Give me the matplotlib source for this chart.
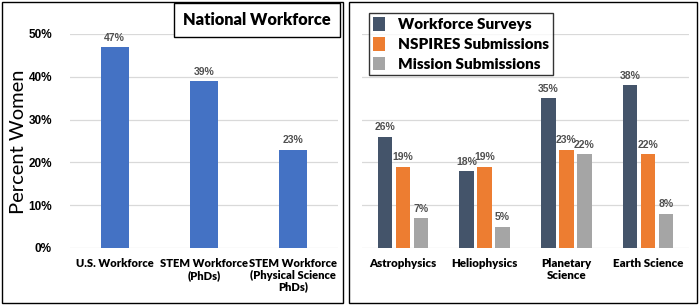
import numpy as np
import matplotlib.pyplot as plt
from matplotlib.patches import Rectangle

plt.rcParams['font.family'] = ['Lato', 'DejaVu Sans']
narrow = ['Liberation Sans Narrow', 'Liberation Sans', 'DejaVu Sans']

# national workforce data
nat_labels = ['U.S. Workforce', 'STEM Workforce\n(PhDs)', 'STEM Workforce\n(Physical Science\nPhDs)']
nat_values = [47, 39, 23]

# division data
div_labels = ['Astrophysics', 'Heliophysics', 'Planetary\nScience', 'Earth Science']
workforce = [26, 18, 35, 38]
nspires = [19, 19, 23, 22]
mission = [7, 5, 22, 8]
series_names = ['Workforce Surveys', 'NSPIRES Submissions', 'Mission Submissions']
series_colors = ['#44546A', '#ED7D31', '#A5A5A5']

W, H = 699, 306
fig = plt.figure(figsize=(W / 100, H / 100), dpi=100)

# panel borders
for x0, x1 in [(2, 343), (349, 697)]:
    fig.patches.append(Rectangle((x0 / W, 1 - 303 / H), (x1 - x0) / W, 301 / H,
                                 transform=fig.transFigure, fill=False,
                                 edgecolor='black', linewidth=1.0))

bottom = 1 - 248 / H
height = (248 - 34) / H
ax1 = fig.add_axes([70 / W, bottom, (338 - 70) / W, height])
ax2 = fig.add_axes([362 / W, bottom, (689 - 362) / W, height])

grid_color = '#D9D9D9'
lab_color = '#505050'
heavy = 'heavy'


def style(ax):
    ax.set_ylim(0, 50)
    ax.set_yticks(np.arange(0, 51, 10))
    ax.grid(axis='y', color=grid_color, linewidth=0.9)
    ax.set_axisbelow(True)
    for s in ax.spines.values():
        s.set_visible(False)
    ax.tick_params(length=0)


# left panel
style(ax1)
x = np.arange(len(nat_values))
bars = ax1.bar(x, nat_values, width=0.31, color='#4472C4')
ax1.set_xlim(-0.5, len(nat_values) - 0.5)
ax1.set_xticks(x)
ax1.set_xticklabels(nat_labels, fontsize=8, fontweight=heavy, va='top', linespacing=1.1)
ax1.set_yticklabels([f'{v}%' for v in range(0, 51, 10)], fontsize=8.5, fontweight='bold',
                    family=narrow[1:])
ax1.tick_params(axis='x', pad=7)
ax1.tick_params(axis='y', pad=13)
for b, v in zip(bars, nat_values):
    ax1.text(b.get_x() + b.get_width() / 2, v + 1, f'{v}%', ha='center', va='bottom',
             fontsize=7.5, fontweight='bold', color=lab_color, family=narrow)
ax1.set_ylabel('Percent Women', fontsize=14.5)
ax1.yaxis.set_label_coords(-0.16, 0.495)
fig.text(257 / W, 1 - 20 / H, 'National Workforce', ha='center', va='center',
         fontsize=11.8, fontweight=heavy,
         bbox=dict(boxstyle='square,pad=0.55', facecolor='white', edgecolor='black', linewidth=1))

# right panel
style(ax2)
ax2.set_yticklabels([])
xg = np.arange(len(div_labels))
step = 0.22
w = 0.18
for i, (vals, name, col) in enumerate(zip([workforce, nspires, mission], series_names, series_colors)):
    bs = ax2.bar(xg + (i - 1) * step, vals, width=w, color=col, label=name)
    for b, v in zip(bs, vals):
        ax2.text(b.get_x() + b.get_width() / 2, v + 1, f'{v}%', ha='center', va='bottom',
                 fontsize=7.5, fontweight='bold', color=lab_color, family=narrow)
ax2.set_xlim(-0.5, len(div_labels) - 0.5)
ax2.set_xticks(xg)
ax2.set_xticklabels(div_labels, fontsize=8.3, fontweight=heavy, va='top', linespacing=1.1)
ax2.tick_params(axis='x', pad=7)
leg = ax2.legend(loc='upper left', bbox_to_anchor=(-0.003, 1.135), prop={'weight': heavy, 'size': 11},
                 frameon=True, fancybox=False, edgecolor='black', handlelength=0.8,
                 handleheight=1.0, labelspacing=0.37, borderpad=0.3, handletextpad=0.8)
leg.get_frame().set_linewidth(1)

fig.savefig('out.png', dpi=100)
